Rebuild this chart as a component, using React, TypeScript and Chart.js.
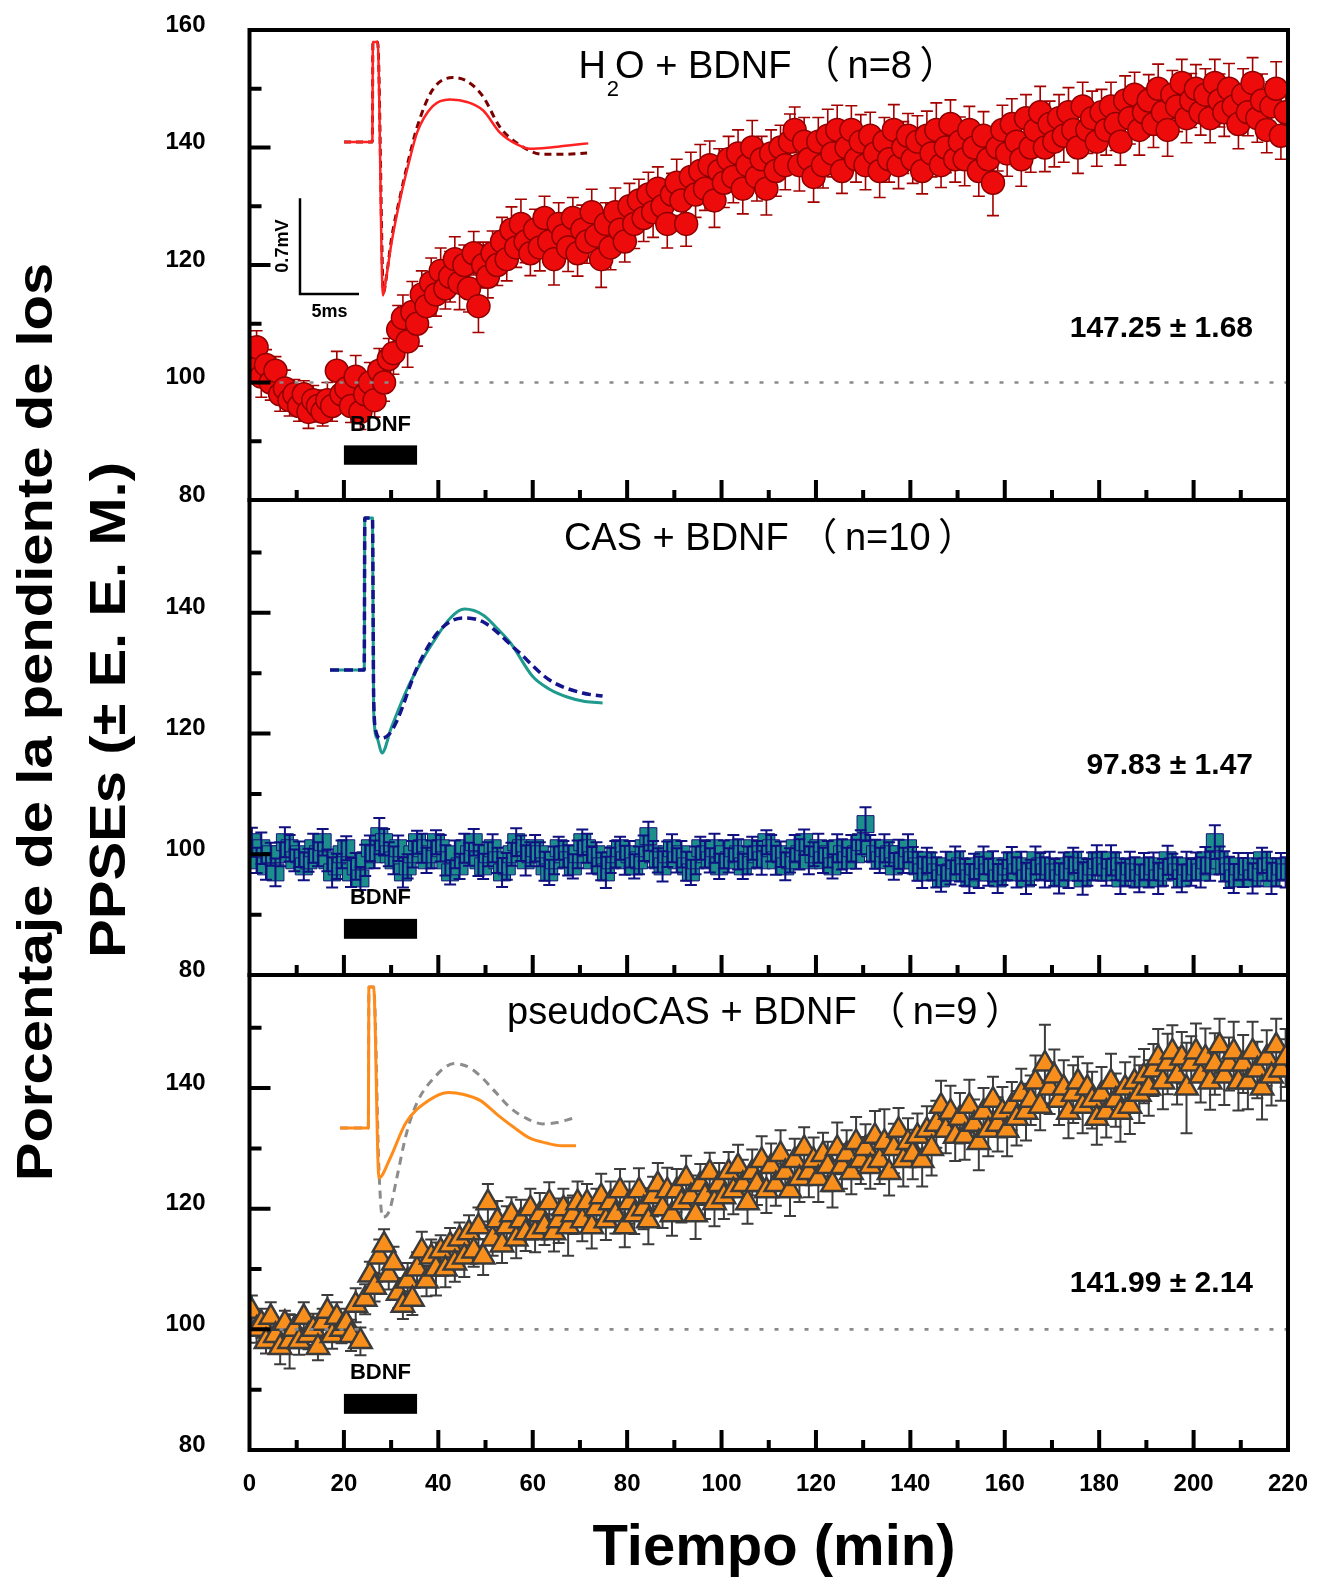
import React, { useEffect, useRef } from "react";
import { Chart, registerables } from "chart.js";

Chart.register(...registerables);

const PAGE_W = 1323;
const PAGE_H = 1578;
const AREA_LEFT = 249.5;
const AREA_RIGHT = 1288;
const PX_PER_MS = 11.8;
const PX_PER_MV = 137;
const FONT = '"Liberation Sans", Arial, "Noto Sans CJK SC", sans-serif';

// sampling grid (minutes)
const TIME_MIN = Array.from({ length: 220 }, (_, i) => i + 0.5);

const X_TICK_LABELS = [0, 20, 40, 60, 80, 100, 120, 140, 160, 180, 200, 220];
const X_MINOR_TICKS = [10, 30, 50, 70, 90, 110, 130, 150, 170, 190, 210];
const Y_TICK_LABELS = [80, 100, 120, 140, 160];
const Y_MINOR_TICKS = [90, 110, 130, 150];

const BDNF_START = 20;
const BDNF_END = 35.5;
const BDNF_BAR_LOW = 86;
const BDNF_BAR_HIGH = 89.3;
const BDNF_LABEL_Y = 91.8;

// H2O + BDNF (n=8)
const H2O_MEAN = [
  104, 106, 101, 103, 100, 102, 98, 99, 97, 98,
  96, 98, 95, 97, 96, 95, 97, 96, 102, 98,
  99, 96, 101, 95, 98, 100, 97, 102, 100, 104,
  105, 109, 111, 107, 112, 110, 115, 113, 117, 115,
  119, 116, 118, 121, 117, 120, 116, 122, 113, 120,
  118, 122, 120, 124, 121, 126, 123, 127, 124, 122,
  126, 123, 128, 124, 121, 127, 125, 123, 128, 122,
  126, 124, 129, 125, 121, 127, 123, 129, 126, 124,
  130, 127, 131, 128, 132, 129, 133, 130, 127, 132,
  134, 131, 127, 135, 132, 136, 133, 137, 131, 136,
  134, 138, 135, 139, 133, 137, 140, 135, 138, 133,
  139, 136, 140, 137, 141, 143, 137, 141, 138, 135,
  141, 137, 142, 139, 143, 136, 140, 143, 138, 141,
  137, 142, 139, 136, 141, 138, 143, 137, 140, 142,
  138, 141, 136, 142, 139, 143, 137, 140, 144, 138,
  141, 138, 143, 140, 136, 142, 138, 134, 140, 143,
  139, 144, 141, 138, 145, 140, 143, 146, 140, 144,
  141, 145, 142, 146, 143, 140, 147, 143, 145, 141,
  146, 143, 147, 144, 141, 148, 145, 149, 143, 146,
  148, 144, 150, 146, 143, 149, 147, 151, 145, 148,
  150, 146, 149, 145, 151, 148, 146, 150, 147, 144,
  149, 146, 151, 145, 148, 143, 147, 150, 142, 146,
];
const H2O_SEM = [
  3.2, 2.8, 3.5, 2.6, 3.0, 2.4, 2.9, 3.1, 2.7, 2.5,
  2.6, 2.3, 2.8, 2.5, 2.7, 2.4, 3.0, 2.6, 3.3, 2.9,
  3.1, 2.8, 3.6, 3.0, 2.7, 3.4, 2.9, 3.8, 3.2, 3.5,
  3.6, 4.1, 3.9, 4.4, 5.2, 3.8, 4.0, 3.6, 4.2, 3.7,
  3.9, 3.5, 4.3, 3.8, 4.6, 3.4, 4.0, 3.7, 4.5, 3.9,
  3.6, 3.8, 3.5, 4.1, 3.7, 3.9, 3.4, 4.2, 3.6, 3.8,
  3.5, 4.0, 3.7, 3.9, 4.4, 3.6, 3.8, 4.1, 3.5, 3.9,
  4.2, 3.7, 3.9, 4.0, 4.8, 3.6, 3.8, 4.1, 3.7, 3.5,
  3.9, 4.2, 3.6, 4.0, 3.8, 4.3, 3.7, 3.9, 4.1, 3.6,
  4.0, 4.4, 3.8, 4.2, 3.9, 4.5, 3.7, 4.1, 4.6, 3.8,
  4.2, 3.9, 4.4, 4.0, 4.3, 3.8, 4.6, 4.1, 3.9, 4.5,
  4.0, 4.3, 3.8, 4.2, 4.7, 3.9, 4.4, 4.1, 3.8, 4.3,
  4.1, 3.9, 4.5, 4.0, 4.2, 3.8, 4.4, 4.1, 3.9, 4.6,
  4.2, 4.0, 3.8, 4.5, 4.1, 3.9, 4.3, 4.0, 4.4, 3.8,
  4.1, 4.4, 3.9, 4.2, 4.0, 4.6, 3.8, 4.3, 4.1, 3.9,
  4.2, 4.5, 4.0, 3.8, 4.3, 4.1, 4.4, 5.6, 4.0, 4.2,
  3.9, 4.3, 4.1, 4.6, 4.0, 4.2, 3.8, 4.4, 4.1, 3.9,
  4.3, 4.0, 4.5, 4.2, 3.9, 4.4, 4.1, 4.0, 4.6, 4.2,
  3.9, 4.3, 4.1, 4.5, 4.0, 4.2, 4.4, 3.8, 4.3, 4.1,
  4.4, 4.0, 4.2, 3.9, 4.5, 4.1, 4.3, 4.0, 4.2, 4.6,
  4.1, 3.9, 4.4, 4.2, 4.0, 4.5, 4.1, 4.3, 3.9, 4.2,
  4.4, 4.0, 4.3, 4.1, 4.5, 3.9, 4.2, 4.6, 4.0, 4.3,
];

// CAS + BDNF (n=10)
const CAS_MEAN = [
  102, 99, 101, 98, 100, 97, 100, 102, 101, 99,
  100, 98, 99, 101, 100, 102, 99, 97, 98, 100,
  101, 97, 98, 96, 99, 101, 100, 103, 102, 100,
  99, 101, 97, 98, 100, 102, 101, 99, 100, 102,
  101, 99, 97, 100, 98, 101, 100, 102, 99, 98,
  100, 101, 99, 97, 98, 100, 102, 101, 99, 100,
  101, 100, 98, 97, 99, 101, 100, 99, 98, 100,
  102, 101, 99, 100, 98, 97, 99, 100, 101, 99,
  100, 98, 99, 101, 103, 100, 99, 98, 100, 101,
  99, 100, 98, 97, 99, 101, 100, 99, 101, 98,
  100, 99, 101, 100, 98, 99, 101, 100, 99, 102,
  101, 99, 100, 98, 99, 101, 100, 102, 99, 100,
  101, 99, 100, 98, 101, 100, 99, 101, 100, 102,
  105, 101, 100, 99, 101, 100, 98, 100, 99, 101,
  99, 98, 97, 99, 98, 97, 96, 98, 97, 99,
  98, 97, 96, 98, 97, 99, 97, 98, 96, 97,
  98, 99, 97, 98, 96, 97, 99, 98, 97, 98,
  97, 96, 98, 97, 99, 98, 96, 97, 98, 99,
  98, 97, 99, 98, 96, 97, 98, 97, 96, 98,
  97, 98, 96, 97, 99, 98, 97, 96, 98, 97,
  98, 97, 99, 98, 102, 99, 98, 97, 96, 98,
  97, 98, 96, 97, 99, 98, 96, 97, 98, 97,
];
const CAS_SEM = [
  2.4, 2.1, 2.6, 2.2, 1.9, 2.3, 2.0, 2.5, 2.2, 1.8,
  2.1, 2.3, 1.9, 2.4, 2.0, 2.2, 1.8, 2.5, 2.1, 2.3,
  2.0, 2.4, 2.2, 1.9, 2.6, 2.1, 2.3, 3.0, 2.2, 2.0,
  2.3, 2.1, 2.5, 2.0, 2.2, 1.9, 2.4, 2.1, 2.3, 2.0,
  2.2, 2.5, 2.0, 2.3, 2.1, 2.4, 1.9, 2.2, 2.6, 2.1,
  2.0, 2.3, 2.1, 2.4, 2.2, 1.9, 2.3, 2.1, 2.5, 2.0,
  2.2, 2.0, 2.4, 2.1, 2.3, 1.9, 2.2, 2.5, 2.0, 2.3,
  2.1, 2.4, 2.2, 2.0, 2.3, 2.6, 2.1, 2.2, 1.9, 2.4,
  2.2, 2.0, 2.3, 2.1, 2.4, 2.2, 2.0, 2.5, 2.1, 2.3,
  2.0, 2.2, 2.4, 2.1, 2.3, 1.9, 2.2, 2.0, 2.4, 2.1,
  2.3, 2.0, 2.2, 2.5, 2.1, 2.3, 1.9, 2.2, 2.4, 2.0,
  2.2, 2.4, 2.1, 2.3, 2.0, 2.2, 2.5, 2.1, 2.3, 2.0,
  2.4, 2.1, 2.2, 2.0, 2.3, 2.5, 2.1, 2.2, 2.4, 2.0,
  2.8, 2.2, 2.4, 2.1, 2.3, 2.0, 2.2, 2.4, 2.1, 2.3,
  2.2, 2.4, 2.6, 2.1, 2.3, 2.5, 2.2, 2.4, 2.0, 2.3,
  2.5, 2.2, 2.4, 2.1, 2.6, 2.3, 2.2, 2.5, 2.4, 2.1,
  2.3, 2.2, 2.5, 2.4, 2.6, 2.1, 2.3, 2.2, 2.5, 2.4,
  2.2, 2.5, 2.3, 2.6, 2.1, 2.4, 2.7, 2.2, 2.3, 2.5,
  2.4, 2.2, 2.5, 2.3, 2.6, 2.2, 2.4, 2.5, 2.3, 2.2,
  2.5, 2.3, 2.6, 2.2, 2.4, 2.1, 2.5, 2.3, 2.4, 2.2,
  2.3, 2.5, 2.2, 2.4, 2.8, 2.3, 2.5, 2.6, 2.4, 2.2,
  2.4, 2.2, 2.5, 2.3, 2.1, 2.4, 2.6, 2.3, 2.2, 2.5,
];

// pseudoCAS + BDNF (n=9)
const PSEUDO_MEAN = [
  103, 100, 101, 98, 102, 99, 97, 101, 98, 100,
  98, 102, 99, 100, 97, 101, 103, 99, 102, 100,
  101, 99, 104, 98, 105, 109, 107, 112, 114, 109,
  111, 106, 104, 108, 105, 110, 113, 108, 112, 110,
  113, 110, 114, 111, 115, 112, 116, 113, 117, 112,
  121, 115, 118, 114, 117, 119, 115, 118, 116, 120,
  116, 119, 117, 121, 116, 118, 120, 117, 119, 121,
  118, 121, 117, 120, 122, 118, 121, 119, 123, 117,
  121, 119, 123, 120, 118, 122, 124, 120, 123, 119,
  123, 121, 125, 122, 119, 124, 122, 126, 121, 124,
  122, 126, 123, 127, 124, 121, 126, 124, 128, 123,
  127, 124, 129, 126, 123, 128, 125, 130, 126, 128,
  125, 129, 127, 124, 130, 127, 129, 126, 131, 128,
  130, 127, 132, 128, 131, 126, 130, 133, 128, 131,
  129, 132, 128, 133, 130, 134, 137, 133, 136, 132,
  135, 132, 137, 134, 131, 136, 133, 138, 134, 136,
  133, 137, 135, 139, 136, 138, 141, 137, 144, 140,
  142, 138, 140, 136, 139, 141, 137, 140, 138, 135,
  139, 136, 141, 138, 136, 140, 137, 141, 139, 142,
  140, 143, 145, 141, 144, 146, 142, 145, 140, 144,
  146, 142, 145, 141, 144, 147, 142, 144, 146, 141,
  144, 141, 146, 143, 140, 145, 142, 147, 143, 145,
];
const PSEUDO_SEM = [
  2.6, 2.2, 2.4, 2.0, 2.5, 2.3, 2.8, 2.1, 4.5, 2.4,
  2.2, 2.5, 2.3, 2.6, 2.1, 2.4, 2.7, 2.2, 2.5, 2.3,
  2.4, 2.6, 2.8, 2.3, 2.5, 2.2, 2.4, 2.9, 2.6, 2.4,
  2.7, 2.5, 2.3, 3.0, 2.6, 2.8, 3.2, 2.5, 2.9, 4.4,
  2.6, 3.0, 2.8, 3.1, 2.7, 3.3, 2.9, 2.6, 3.2, 3.0,
  3.1, 2.8, 3.3, 3.0, 3.4, 2.9, 3.2, 3.5, 3.0, 3.3,
  3.2, 3.6, 3.0, 3.4, 3.1, 3.7, 3.3, 4.8, 3.2, 3.5,
  3.4, 3.1, 3.6, 3.3, 3.8, 3.2, 3.5, 3.1, 3.6, 3.4,
  3.5, 3.2, 3.7, 3.4, 3.9, 3.3, 3.6, 3.2, 3.8, 3.5,
  3.6, 3.3, 3.8, 3.5, 4.0, 3.4, 3.7, 3.3, 3.9, 3.6,
  3.7, 3.4, 3.9, 3.6, 4.1, 3.5, 3.8, 3.4, 4.0, 3.7,
  3.8, 3.5, 4.0, 3.7, 4.2, 3.6, 3.9, 3.5, 4.1, 3.8,
  3.9, 3.6, 4.1, 3.8, 4.3, 3.7, 4.0, 3.6, 4.2, 3.9,
  4.0, 3.7, 4.2, 3.9, 5.5, 3.8, 4.1, 3.7, 4.3, 4.0,
  4.1, 3.8, 4.3, 4.0, 4.5, 3.9, 4.2, 3.8, 4.4, 4.1,
  4.2, 3.9, 4.4, 4.1, 4.6, 4.0, 4.3, 3.9, 4.5, 4.2,
  4.3, 4.0, 4.5, 4.2, 4.7, 4.1, 4.4, 4.0, 6.5, 4.3,
  4.4, 4.1, 4.6, 4.3, 4.8, 4.2, 4.5, 4.1, 4.7, 4.4,
  4.5, 4.2, 4.7, 4.4, 4.9, 4.3, 4.6, 4.2, 4.8, 4.5,
  4.6, 4.3, 4.8, 4.5, 5.0, 4.4, 4.7, 4.3, 7.5, 4.6,
  4.7, 4.4, 4.9, 4.6, 5.1, 4.5, 4.8, 4.4, 5.0, 4.7,
  4.8, 4.5, 5.0, 4.7, 5.2, 4.6, 4.9, 4.5, 5.1, 4.8,
];

// inset fEPSP traces (time in ms, voltage in mV)
const H2O_TRACE_BDNF_T = [0, 2.4, 2.45, 2.85, 3.3, 3.6, 4.0, 4.75, 5.5, 6.2, 7.5, 9.0, 10.5, 11.8, 13.2, 14.7, 15.8, 17.5, 19.0, 20.7];
const H2O_TRACE_BDNF_V = [0, 0, 0.73, 0.73, -1.12, -0.98, -0.75, -0.42, -0.15, 0.07, 0.26, 0.31, 0.29, 0.23, 0.07, -0.02, -0.05, -0.04, -0.025, -0.01];
const H2O_TRACE_BASE_T = [0, 2.4, 2.45, 2.85, 3.35, 3.6, 4.0, 4.75, 5.5, 6.2, 7.5, 9.2, 10.5, 11.8, 13.2, 14.7, 16.9, 18.5, 20.6];
const H2O_TRACE_BASE_V = [0, 0, 0.73, 0.73, -1.1, -0.98, -0.72, -0.4, -0.12, 0.11, 0.38, 0.47, 0.44, 0.33, 0.11, -0.01, -0.09, -0.09, -0.08];

const CAS_TRACE_BDNF_T = [0, 2.9, 2.95, 3.6, 3.7, 4.0, 4.4, 5.2, 6.5, 7.6, 8.7, 10.2, 11.4, 13.0, 14.2, 15.3, 17.2, 18.6, 20.1, 21.6, 23.1];
const CAS_TRACE_BDNF_V = [0, 0, 1.11, 1.11, -0.3, -0.5, -0.606, -0.42, -0.146, 0.04, 0.197, 0.38, 0.445, 0.4, 0.3, 0.197, -0.05, -0.14, -0.197, -0.23, -0.24];
const CAS_TRACE_BASE_T = [0, 2.9, 2.95, 3.6, 3.7, 3.9, 4.3, 5.0, 5.7, 7.4, 9.3, 11.3, 13.0, 15.8, 18.6, 21.4, 23.1];
const CAS_TRACE_BASE_V = [0, 0, 1.11, 1.11, -0.2, -0.45, -0.5, -0.47, -0.365, 0.02, 0.29, 0.38, 0.35, 0.146, -0.073, -0.168, -0.19];

const PSEUDO_TRACE_BDNF_T = [0, 2.4, 2.45, 2.85, 3.3, 4.2, 5.6, 7.5, 9.2, 10.5, 11.9, 13.3, 14.7, 16.0, 17.5, 18.8, 20.0];
const PSEUDO_TRACE_BDNF_V = [0, 0, 1.03, 1.03, -0.365, -0.23, 0.04, 0.2, 0.26, 0.245, 0.2, 0.1, 0.007, -0.07, -0.11, -0.13, -0.13];
const PSEUDO_TRACE_BASE_T = [0, 2.4, 2.45, 2.85, 3.3, 3.6, 4.2, 4.8, 5.6, 6.5, 7.8, 9.7, 11.0, 12.0, 13.2, 14.4, 15.8, 17.2, 18.4, 19.7];
const PSEUDO_TRACE_BASE_V = [0, 0, 1.03, 1.03, -0.3, -0.65, -0.6, -0.37, -0.05, 0.18, 0.35, 0.47, 0.44, 0.37, 0.26, 0.15, 0.07, 0.03, 0.04, 0.07];

// calibration bar (5 ms, 0.7 mV)
const SCALEBAR_T = [-3.73, -3.73, 1.27];
const SCALEBAR_V = [-0.41, -1.11, -1.11];

type Trace = { t: number[]; v: number[]; color: string; dash: number[]; width: number; order: number };
type TitlePart = { text: string; size: number; dy: number; kern: number };
type Panel = {
  top: number; bottom: number; yMax: number;
  mean: number[]; sem: number[];
  pointStyle: string; radius: number; fill: string; stroke: string; strokeW: number;
  errColor: string; errWidth: number; errOnTop: boolean;
  title: TitlePart[]; titleX: number; titleY: number;
  value: string; valueY: number;
  refLine: boolean;
  insetX: number; insetY: number;
  traces: Trace[];
  scaleBar: boolean;
  xAxis: boolean;
};

const PANELS: Panel[] = [
  {
    top: 30, bottom: 500, yMax: 160,
    mean: H2O_MEAN, sem: H2O_SEM,
    pointStyle: "circle", radius: 11.5, fill: "#ee0b0b", stroke: "#8e0000", strokeW: 1.5,
    errColor: "#a30000", errWidth: 1.6, errOnTop: false,
    title: [
      { text: "H", size: 38, dy: 0, kern: 1 },
      { text: "2", size: 22, dy: 18, kern: -4 },
      { text: "O + BDNF （\u2009n=8\u2009）", size: 38, dy: 0, kern: 0 },
    ],
    titleX: 768, titleY: 78,
    value: "147.25 ± 1.68", valueY: 337,
    refLine: true,
    insetX: 344, insetY: 142,
    traces: [
      { t: H2O_TRACE_BASE_T, v: H2O_TRACE_BASE_V, color: "#7a0000", dash: [7, 5], width: 3, order: 2 },
      { t: H2O_TRACE_BDNF_T, v: H2O_TRACE_BDNF_V, color: "#ff2222", dash: [], width: 2.5, order: 1 },
    ],
    scaleBar: true,
    xAxis: false,
  },
  {
    top: 500, bottom: 975, yMax: 158.7,
    mean: CAS_MEAN, sem: CAS_SEM,
    pointStyle: "rect", radius: 12, fill: "#1c8f8c", stroke: "#14147a", strokeW: 1,
    errColor: "#101080", errWidth: 2, errOnTop: true,
    title: [{ text: "CAS + BDNF （\u2009n=10\u2009）", size: 38, dy: 0, kern: 0 }],
    titleX: 770, titleY: 550,
    value: "97.83 ± 1.47", valueY: 774,
    refLine: false,
    insetX: 330, insetY: 670,
    traces: [
      { t: CAS_TRACE_BDNF_T, v: CAS_TRACE_BDNF_V, color: "#1f9a8e", dash: [], width: 3, order: 2 },
      { t: CAS_TRACE_BASE_T, v: CAS_TRACE_BASE_V, color: "#14148c", dash: [9, 5], width: 3.5, order: 1 },
    ],
    scaleBar: false,
    xAxis: false,
  },
  {
    top: 975, bottom: 1450, yMax: 158.75,
    mean: PSEUDO_MEAN, sem: PSEUDO_SEM,
    pointStyle: "triangle", radius: 13, fill: "#f88e1c", stroke: "#3b3b3b", strokeW: 2.5,
    errColor: "#3c3c3c", errWidth: 2, errOnTop: false,
    title: [{ text: "pseudoCAS + BDNF （\u2009n=9\u2009）", size: 38, dy: 0, kern: 0 }],
    titleX: 765, titleY: 1024,
    value: "141.99 ± 2.14", valueY: 1292,
    refLine: true,
    insetX: 340, insetY: 1128,
    traces: [
      { t: PSEUDO_TRACE_BASE_T, v: PSEUDO_TRACE_BASE_V, color: "#8c8c8c", dash: [8, 6], width: 3, order: 2 },
      { t: PSEUDO_TRACE_BDNF_T, v: PSEUDO_TRACE_BDNF_V, color: "#ff8c1a", dash: [], width: 3, order: 1 },
    ],
    scaleBar: false,
    xAxis: true,
  },
];

function drawErrorBars(chart: any, p: Panel) {
  const { ctx, chartArea: a } = chart;
  const xs = chart.scales.x;
  const ys = chart.scales.y;
  ctx.save();
  ctx.beginPath();
  ctx.rect(a.left, a.top, a.right - a.left, a.bottom - a.top);
  ctx.clip();
  ctx.strokeStyle = p.errColor;
  ctx.lineWidth = p.errWidth;
  ctx.beginPath();
  p.mean.forEach((m, i) => {
    const e = p.sem[i];
    const x = xs.getPixelForValue(TIME_MIN[i]);
    const yt = ys.getPixelForValue(m + e);
    const yb = ys.getPixelForValue(m - e);
    ctx.moveTo(x, yt);
    ctx.lineTo(x, yb);
    ctx.moveTo(x - 6, yt);
    ctx.lineTo(x + 6, yt);
    ctx.moveTo(x - 6, yb);
    ctx.lineTo(x + 6, yb);
  });
  ctx.stroke();
  ctx.restore();
}

function drawTitleParts(ctx: CanvasRenderingContext2D, parts: TitlePart[], cx: number, baseline: number) {
  let total = 0;
  parts.forEach((pt) => {
    ctx.font = `${pt.size}px ${FONT}`;
    total += ctx.measureText(pt.text).width + pt.kern;
  });
  let x = cx - total / 2;
  ctx.fillStyle = "#000";
  ctx.textAlign = "left";
  ctx.textBaseline = "alphabetic";
  parts.forEach((pt) => {
    ctx.font = `${pt.size}px ${FONT}`;
    ctx.fillText(pt.text, x, baseline + pt.dy);
    x += ctx.measureText(pt.text).width + pt.kern;
  });
}

function decorPlugin(p: Panel, idx: number) {
  return {
    id: "panelDecor" + idx,
    beforeDatasetDraw(chart: any, args: any) {
      if (args.index === 0 && !p.errOnTop) drawErrorBars(chart, p);
    },
    afterDatasetDraw(chart: any, args: any) {
      if (args.index === 0 && p.errOnTop) drawErrorBars(chart, p);
    },
    afterDatasetsDraw(chart: any) {
      if (!p.refLine) return;
      const { ctx, chartArea: a } = chart;
      const y = chart.scales.y.getPixelForValue(100);
      ctx.save();
      ctx.strokeStyle = "#8a8a8a";
      ctx.lineWidth = 2.6;
      ctx.setLineDash([4, 11]);
      ctx.beginPath();
      ctx.moveTo(a.left, y);
      ctx.lineTo(a.right, y);
      ctx.stroke();
      ctx.restore();
    },
    afterDraw(chart: any) {
      const { ctx, chartArea: a } = chart;
      const xs = chart.scales.x;
      const ys = chart.scales.y;
      ctx.save();
      // ticks (inward)
      ctx.strokeStyle = "#000";
      ctx.lineWidth = 4;
      ctx.lineCap = "butt";
      ctx.beginPath();
      X_TICK_LABELS.forEach((v) => {
        if (v <= 0 || v >= 220) return;
        const x = xs.getPixelForValue(v);
        ctx.moveTo(x, a.bottom);
        ctx.lineTo(x, a.bottom - 20);
      });
      X_MINOR_TICKS.forEach((v) => {
        const x = xs.getPixelForValue(v);
        ctx.moveTo(x, a.bottom);
        ctx.lineTo(x, a.bottom - 10);
      });
      Y_TICK_LABELS.forEach((v) => {
        if (v <= ys.min || v >= ys.max) return;
        const y = ys.getPixelForValue(v);
        ctx.moveTo(a.left, y);
        ctx.lineTo(a.left + 21, y);
      });
      Y_MINOR_TICKS.forEach((v) => {
        if (v <= ys.min || v >= ys.max) return;
        const y = ys.getPixelForValue(v);
        ctx.moveTo(a.left, y);
        ctx.lineTo(a.left + 12, y);
      });
      ctx.stroke();
      // frame
      ctx.lineWidth = 4;
      ctx.strokeRect(a.left, a.top, a.right - a.left, a.bottom - a.top);

      // BDNF application bar
      const bx0 = xs.getPixelForValue(BDNF_START);
      const bx1 = xs.getPixelForValue(BDNF_END);
      const by0 = ys.getPixelForValue(BDNF_BAR_HIGH);
      const by1 = ys.getPixelForValue(BDNF_BAR_LOW);
      ctx.fillStyle = "#000";
      ctx.fillRect(bx0, by0, bx1 - bx0, by1 - by0);
      ctx.font = `bold 22px ${FONT}`;
      ctx.textAlign = "center";
      ctx.textBaseline = "alphabetic";
      ctx.fillText("BDNF", (bx0 + bx1) / 2, ys.getPixelForValue(BDNF_LABEL_Y));

      // panel title
      drawTitleParts(ctx, p.title, p.titleX, p.titleY);

      // mean ± SEM annotation
      ctx.font = `bold 30px ${FONT}`;
      ctx.textAlign = "right";
      ctx.textBaseline = "alphabetic";
      ctx.fillStyle = "#000";
      ctx.fillText(p.value, 1253, p.valueY);

      // calibration labels
      if (p.scaleBar) {
        const xi = chart.scales.xi;
        const yi = chart.scales.yi;
        ctx.font = `bold 18px ${FONT}`;
        ctx.textAlign = "center";
        ctx.textBaseline = "middle";
        ctx.save();
        ctx.translate(xi.getPixelForValue(SCALEBAR_T[0] - 1.4), yi.getPixelForValue((SCALEBAR_V[0] + SCALEBAR_V[1]) / 2));
        ctx.rotate(-Math.PI / 2);
        ctx.fillText("0.7mV", 0, 0);
        ctx.restore();
        ctx.fillText("5ms", xi.getPixelForValue((SCALEBAR_T[1] + SCALEBAR_T[2]) / 2), yi.getPixelForValue(SCALEBAR_V[2] - 0.13));
      }

      // axis titles (drawn once, by the bottom panel)
      if (p.xAxis) {
        ctx.font = `bold 58px ${FONT}`;
        ctx.textAlign = "center";
        ctx.textBaseline = "alphabetic";
        ctx.fillText("Tiempo (min)", 774, 1565);

        ctx.font = `bold 50px ${FONT}`;
        ctx.textBaseline = "middle";
        const lines: [string, number, number][] = [
          ["Porcentaje de la pendiente de los", 38, 722],
          ["PPSEs (± E. E. M.)", 111, 710],
        ];
        lines.forEach(([txt, cx, cy]) => {
          ctx.save();
          ctx.translate(cx, cy);
          ctx.rotate(-Math.PI / 2);
          ctx.scale(1.16, 1);
          ctx.fillText(txt, 0, 0);
          ctx.restore();
        });
      }
      ctx.restore();
    },
  };
}

function buildChart(canvas: HTMLCanvasElement, p: Panel, idx: number) {
  const areaW = AREA_RIGHT - AREA_LEFT;
  const areaH = p.bottom - p.top;
  const tMin = (AREA_LEFT - p.insetX) / PX_PER_MS;
  const tMax = tMin + areaW / PX_PER_MS;
  const vMax = (p.insetY - p.top) / PX_PER_MV;
  const vMin = vMax - areaH / PX_PER_MV;
  const xAxisH = p.xAxis ? 60 : 0;

  const datasets: any[] = [
    {
      data: TIME_MIN.map((t, i) => ({ x: t, y: p.mean[i] })),
      showLine: false,
      pointStyle: p.pointStyle,
      pointRadius: p.radius,
      pointHoverRadius: p.radius,
      pointBackgroundColor: p.fill,
      pointBorderColor: p.stroke,
      pointBorderWidth: p.strokeW,
      backgroundColor: p.fill,
      borderColor: p.stroke,
      clip: 0,
      order: 10,
      xAxisID: "x",
      yAxisID: "y",
    },
    ...p.traces.map((tr) => ({
      data: tr.t.map((t, i) => ({ x: t, y: tr.v[i] })),
      borderColor: tr.color,
      borderWidth: tr.width,
      borderDash: tr.dash,
      borderJoinStyle: "round",
      pointRadius: 0,
      pointHoverRadius: 0,
      tension: 0.4,
      cubicInterpolationMode: "monotone",
      fill: false,
      order: tr.order,
      xAxisID: "xi",
      yAxisID: "yi",
    })),
  ];
  if (p.scaleBar) {
    datasets.push({
      data: SCALEBAR_T.map((t, i) => ({ x: t, y: SCALEBAR_V[i] })),
      borderColor: "#000",
      borderWidth: 2.5,
      pointRadius: 0,
      pointHoverRadius: 0,
      tension: 0,
      fill: false,
      order: 0,
      xAxisID: "xi",
      yAxisID: "yi",
    });
  }

  const tickFont = { family: FONT, size: 24, weight: "bold" as const };

  return new Chart(canvas, {
    type: "line",
    data: { datasets },
    options: {
      responsive: false,
      maintainAspectRatio: false,
      devicePixelRatio: 1,
      animation: false,
      events: [],
      layout: {
        autoPadding: false,
        padding: {
          left: 0,
          right: PAGE_W - AREA_RIGHT,
          top: p.top,
          bottom: PAGE_H - p.bottom - xAxisH,
        },
      },
      plugins: { legend: { display: false }, tooltip: { enabled: false }, title: { display: false } },
      scales: {
        x: {
          type: "linear",
          min: 0,
          max: 220,
          display: p.xAxis,
          position: "bottom",
          afterBuildTicks: (s: any) => {
            s.ticks = X_TICK_LABELS.map((v) => ({ value: v }));
          },
          afterFit: (s: any) => {
            s.height = xAxisH;
            s.paddingLeft = 0;
            s.paddingRight = 0;
            s.paddingTop = 0;
            s.paddingBottom = 0;
          },
          grid: { display: false, drawTicks: false },
          border: { display: false },
          ticks: { font: tickFont, color: "#000", padding: 20, maxRotation: 0, autoSkip: false },
        },
        y: {
          type: "linear",
          min: 80,
          max: p.yMax,
          position: "left",
          afterBuildTicks: (s: any) => {
            s.ticks = Y_TICK_LABELS.filter((v) => v <= s.max).map((v) => ({ value: v }));
          },
          afterFit: (s: any) => {
            s.width = AREA_LEFT;
            s.paddingLeft = 0;
            s.paddingRight = 0;
            s.paddingTop = 0;
            s.paddingBottom = 0;
          },
          grid: { display: false, drawTicks: false },
          border: { display: false },
          ticks: { font: tickFont, color: "#000", padding: 44, labelOffset: -5, autoSkip: false },
        },
        xi: {
          type: "linear",
          axis: "x",
          position: "bottom",
          display: false,
          min: tMin,
          max: tMax,
        },
        yi: {
          type: "linear",
          axis: "y",
          position: "left",
          display: false,
          min: vMin,
          max: vMax,
        },
      } as any,
    },
    plugins: [decorPlugin(p, idx)],
  } as any);
}

export default function App() {
  const r0 = useRef<HTMLCanvasElement>(null);
  const r1 = useRef<HTMLCanvasElement>(null);
  const r2 = useRef<HTMLCanvasElement>(null);

  useEffect(() => {
    const refs = [r0, r1, r2];
    const charts = PANELS.map((p, i) => buildChart(refs[i].current as HTMLCanvasElement, p, i));
    return () => charts.forEach((c) => c.destroy());
  }, []);

  return (
    <div style={{ position: "absolute", left: 0, top: 0, width: PAGE_W, height: PAGE_H, background: "#fff" }}>
      {[r0, r1, r2].map((r, i) => (
        <canvas
          key={i}
          ref={r}
          width={PAGE_W}
          height={PAGE_H}
          style={{ position: "absolute", left: 0, top: 0, width: PAGE_W, height: PAGE_H }}
        />
      ))}
    </div>
  );
}
